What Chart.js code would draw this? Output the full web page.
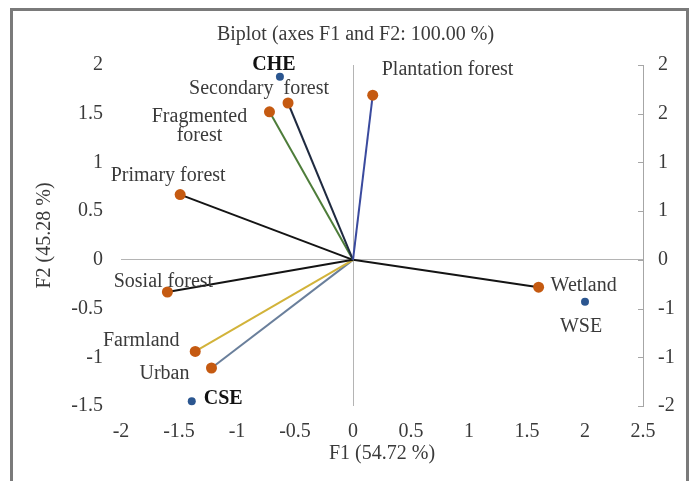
<!DOCTYPE html>
<html>
<head>
<meta charset="utf-8">
<script src="https://cdn.jsdelivr.net/npm/chart.js@4/dist/chart.umd.min.js"></script>
<style>
  html, body { margin: 0; padding: 0; background: #fff; }
  #c { display: block; }
</style>
</head>
<body>
<canvas id="c" width="697" height="481"></canvas>
<script>
// Variables (active) – loadings on F1 / F2
const variableNames = ['Plantation forest', 'Secondary  forest', 'Fragmented forest', 'Primary forest',
                       'Sosial forest', 'Farmland', 'Urban', 'Wetland'];
const variableF1 = [0.17, -0.56, -0.72, -1.49, -1.60, -1.36, -1.22, 1.60];
const variableF2 = [1.69, 1.61, 1.52, 0.67, -0.33, -0.94, -1.11, -0.28];

// Observations – factor scores on F1 / F2
const observationNames = ['CHE', 'WSE', 'CSE'];
const observationF1 = [-0.63, 2.00, -1.39];
const observationF2 = [1.88, -0.43, -1.45];

// Axis ticks
const f1Ticks = [-2, -1.5, -1, -0.5, 0, 0.5, 1, 1.5, 2, 2.5];
const f2Ticks = [-1.5, -1, -0.5, 0, 0.5, 1, 1.5, 2];
const f2RightLabels = ['-2', '-1', '-1', '0', '1', '1', '2', '2'];

// Styling
const SERIF = "'Liberation Serif', 'Times New Roman', serif";
const FS = 20;
const vectorColors = ['#3a4a9e', '#1f2a40', '#4e7d3a', '#141414', '#141414', '#d2b33a', '#6a7f9b', '#141414'];
const VAR_POINT = '#c55a11';
const OBS_POINT = '#2b5690';
const TEXT = '#3a3a3a';
// label placement relative to the mark: [dx, dy, align]
const variableLabelPos = [
  [9, -25, 'left'], [-29, -14, 'center'], [-70, 5, 'center'], [-12, -19, 'center'],
  [-4, -10, 'center'], [-54, -11, 'center'], [-47, 6, 'center'], [12, -1, 'left']
];
const variableLabelLines = [null, null, ['Fragmented', 'forest'], null, null, null, null, null];
const observationLabelPos = [[-6, -12, 'center'], [-4, 25, 'center'], [12, -2, 'left']];

const datasets = variableNames.map((name, i) => ({
  label: name,
  data: [{ x: 0, y: 0 }, { x: variableF1[i], y: variableF2[i] }],
  showLine: true,
  borderColor: vectorColors[i],
  borderWidth: 2,
  pointRadius: [0, 5.5],
  pointHoverRadius: [0, 5.5],
  pointBackgroundColor: VAR_POINT,
  pointBorderColor: VAR_POINT,
  pointBorderWidth: 0,
  yAxisID: 'y'
}));
datasets.push({
  label: 'Observations',
  data: observationF1.map((x, i) => ({ x, y: observationF2[i] })),
  showLine: false,
  pointRadius: 4,
  pointBackgroundColor: OBS_POINT,
  pointBorderColor: OBS_POINT,
  pointBorderWidth: 0,
  yAxisID: 'y'
});

const zeroGrid = (ctx) => (ctx.tick && ctx.tick.value === 0 ? '#b4b4b4' : 'rgba(0,0,0,0)');

// Outer frame
const framePlugin = {
  id: 'frame',
  beforeDraw(chart) {
    const c = chart.ctx;
    c.save();
    c.fillStyle = '#fff';
    c.fillRect(0, 0, chart.width, chart.height);
    c.strokeStyle = '#7a7a7a';
    c.lineWidth = 3;
    c.strokeRect(11.5, 9.5, 676, 490);
    c.restore();
  }
};

// Inward tick marks on the secondary axis
const rightTicksPlugin = {
  id: 'rightTicks',
  afterDraw(chart) {
    const s = chart.scales.y2;
    const c = chart.ctx;
    c.save();
    c.strokeStyle = '#a6a6a6';
    c.lineWidth = 1;
    s.ticks.forEach(t => {
      const py = Math.round(s.getPixelForValue(t.value)) + 0.5;
      c.beginPath();
      c.moveTo(s.left - 5, py);
      c.lineTo(s.left, py);
      c.stroke();
    });
    c.restore();
  }
};

// Point labels
const labelPlugin = {
  id: 'pointLabels',
  afterDatasetsDraw(chart) {
    const c = chart.ctx;
    c.save();
    c.textBaseline = 'middle';
    variableNames.forEach((name, i) => {
      const el = chart.getDatasetMeta(i).data[1];
      const [dx, dy, align] = variableLabelPos[i];
      const lines = variableLabelLines[i] || [name];
      c.font = FS + 'px ' + SERIF;
      c.fillStyle = TEXT;
      c.textAlign = align;
      lines.forEach((ln, k) => c.fillText(ln, el.x + dx, el.y + dy + k * 19));
    });
    const obsMeta = chart.getDatasetMeta(variableNames.length);
    observationNames.forEach((name, i) => {
      const el = obsMeta.data[i];
      const [dx, dy, align] = observationLabelPos[i];
      const bold = name !== 'WSE';
      c.font = (bold ? 'bold ' : '') + FS + 'px ' + SERIF;
      c.fillStyle = bold ? '#111' : TEXT;
      c.textAlign = align;
      c.fillText(name, el.x + dx, el.y + dy);
    });
    c.restore();
  }
};

new Chart(document.getElementById('c'), {
  type: 'scatter',
  data: { datasets },
  plugins: [framePlugin, rightTicksPlugin, labelPlugin],
  options: {
    responsive: false,
    animation: false,
    devicePixelRatio: 1,
    layout: { padding: { left: 14, right: 0, top: 21, bottom: 0 } },
    plugins: {
      legend: { display: false },
      tooltip: { enabled: false },
      title: {
        display: true,
        text: 'Biplot (axes F1 and F2: 100.00 %)',
        color: TEXT,
        font: { family: SERIF, size: FS, weight: 'normal' },
        padding: { top: 2, bottom: 18 }
      }
    },
    scales: {
      x: {
        type: 'linear',
        min: f1Ticks[0],
        max: f1Ticks[f1Ticks.length - 1],
        afterBuildTicks: s => { s.ticks = f1Ticks.map(v => ({ value: v })); },
        afterFit: s => { s.height = 75; },
        ticks: {
          color: TEXT,
          padding: 14,
          font: { family: SERIF, size: FS },
          callback: v => String(v)
        },
        grid: { color: zeroGrid, lineWidth: 1, drawTicks: false },
        border: { display: false },
        title: {
          display: true,
          text: 'F1 (54.72 %)',
          color: TEXT,
          font: { family: SERIF, size: FS },
          padding: { top: 0, bottom: 15 }
        }
      },
      y: {
        type: 'linear',
        position: 'left',
        min: f2Ticks[0],
        max: f2Ticks[f2Ticks.length - 1],
        afterBuildTicks: s => { s.ticks = f2Ticks.map(v => ({ value: v })); },
        afterFit: s => { s.width = 107; },
        ticks: {
          color: TEXT,
          padding: 18,
          font: { family: SERIF, size: FS },
          callback: v => String(v)
        },
        grid: { color: zeroGrid, lineWidth: 1, drawTicks: false },
        border: { display: false },
        title: {
          display: true,
          text: 'F2 (45.28 %)',
          color: TEXT,
          font: { family: SERIF, size: FS },
          padding: { top: 19, bottom: 0 }
        }
      },
      y2: {
        type: 'linear',
        position: 'right',
        min: f2Ticks[0],
        max: f2Ticks[f2Ticks.length - 1],
        afterBuildTicks: s => { s.ticks = f2Ticks.map(v => ({ value: v })); },
        afterFit: s => { s.width = 54; },
        ticks: {
          color: TEXT,
          padding: 15,
          font: { family: SERIF, size: FS },
          callback: (v, idx) => f2RightLabels[idx]
        },
        grid: { drawOnChartArea: false, drawTicks: false },
        border: { display: true, color: '#a6a6a6', width: 1 }
      }
    }
  }
});
</script>
</body>
</html>
